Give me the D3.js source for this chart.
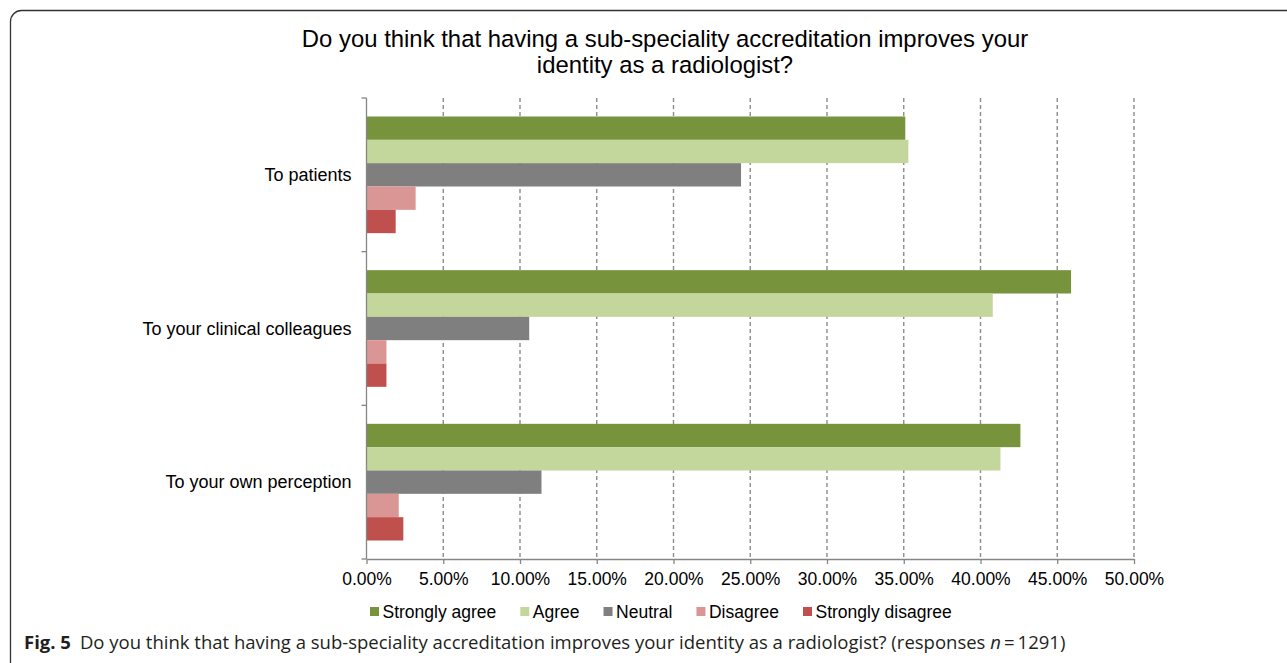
<!DOCTYPE html>
<html>
<head>
<meta charset="utf-8">
<script src="https://cdn.jsdelivr.net/npm/d3@7"></script>
<style>
  html, body { margin: 0; padding: 0; background: #fff; }
  svg { display: block; }
</style>
</head>
<body>
<svg id="chart" width="1287" height="663"></svg>
<script>
// Survey groups (top to bottom) and answer shares in percent
const categories = ["To patients", "To your clinical colleagues", "To your own perception"];
const seriesNames = ["Strongly agree", "Agree", "Neutral", "Disagree", "Strongly disagree"];
const stronglyAgree    = [35.1, 45.9, 42.6];
const agree            = [35.3, 40.8, 41.3];
const neutral          = [24.4, 10.6, 11.4];
const disagree         = [3.2, 1.3, 2.1];
const stronglyDisagree = [1.9, 1.3, 2.4];
const xTicks = [0, 5, 10, 15, 20, 25, 30, 35, 40, 45, 50];
const seriesColors = ["#77933C", "#C3D69B", "#7F7F7F", "#D99694", "#C0504D"];
const titleLines = ["Do you think that having a sub-speciality accreditation improves your", "identity as a radiologist?"];

const seriesValues = [stronglyAgree, agree, neutral, disagree, stronglyDisagree];
const rows = categories.map((c, i) => ({
  category: c,
  values: seriesNames.map((s, j) => ({ series: s, value: seriesValues[j][i] }))
}));

const svg = d3.select("#chart");
const fontMain = "'Liberation Sans', Arial, sans-serif";

// Rounded figure frame
svg.append("rect")
  .attr("x", 10.5).attr("y", 10.5)
  .attr("width", 1300).attr("height", 665)
  .attr("rx", 11).attr("ry", 11)
  .attr("fill", "none").attr("stroke", "#333").attr("stroke-width", 1.3);

// Title
svg.append("text")
  .attr("x", 665).attr("y", 46.5)
  .attr("text-anchor", "middle")
  .attr("font-family", fontMain).attr("font-size", 23.9).attr("fill", "#000")
  .selectAll("tspan").data(titleLines).join("tspan")
  .attr("x", 665).attr("dy", (d, i) => i === 0 ? 0 : 26.5)
  .text(d => d);

const plot = { left: 366.5, right: 1134, top: 98, bottom: 559 };

const x = d3.scaleLinear().domain([0, 50]).range([plot.left, plot.right]);
const y = d3.scaleBand().domain(categories).range([plot.top, plot.bottom]).padding(0);
const inner = d3.scaleBand().domain(seriesNames)
  .range([18.5, y.bandwidth() - 18.5]).padding(0);

// Dashed vertical gridlines
svg.append("g")
  .selectAll("line").data(xTicks.filter(t => t > 0)).join("line")
  .attr("x1", d => x(d)).attr("x2", d => x(d))
  .attr("y1", plot.top).attr("y2", plot.bottom)
  .attr("stroke", "#8c8c8c").attr("stroke-width", 1.4)
  .attr("stroke-dasharray", "4,3");

// Bars
const groups = svg.append("g").selectAll("g").data(rows).join("g")
  .attr("transform", d => `translate(0,${y(d.category)})`);
groups.selectAll("rect").data(d => d.values).join("rect")
  .attr("x", x(0))
  .attr("y", d => inner(d.series))
  .attr("width", d => x(d.value) - x(0))
  .attr("height", inner.bandwidth())
  .attr("fill", (d, i) => seriesColors[i]);

// Bottom axis
const xAxis = d3.axisBottom(x).tickValues(xTicks)
  .tickFormat(d => d3.format(".2f")(d) + "%")
  .tickSizeInner(5).tickSizeOuter(0).tickPadding(8.5);
const gx = svg.append("g").attr("transform", `translate(0,${plot.bottom})`).call(xAxis);
gx.select(".domain").attr("stroke", "#868686").attr("stroke-width", 1.3);
gx.selectAll(".tick line").attr("stroke", "#868686").attr("stroke-width", 1.3);
gx.selectAll(".tick text")
  .attr("font-family", fontMain).attr("font-size", 17.5).attr("fill", "#000");

// Left axis with boundary ticks between categories
const gy = svg.append("g").attr("transform", `translate(${plot.left},0)`);
gy.append("line")
  .attr("x1", 0).attr("x2", 0).attr("y1", plot.top).attr("y2", plot.bottom)
  .attr("stroke", "#868686").attr("stroke-width", 1.3);
const boundaries = categories.map(c => y(c)).concat([plot.bottom]);
gy.selectAll("line.b").data(boundaries).join("line").attr("class", "b")
  .attr("x1", -5).attr("x2", 0).attr("y1", d => d).attr("y2", d => d)
  .attr("stroke", "#868686").attr("stroke-width", 1.3);
gy.selectAll("text").data(categories).join("text")
  .attr("x", -15).attr("y", d => y(d) + y.bandwidth() / 2 + 6)
  .attr("text-anchor", "end")
  .attr("font-family", fontMain).attr("font-size", 18).attr("fill", "#000")
  .text(d => d);

// Legend
const legend = svg.append("g").attr("transform", "translate(370,618)");
let lx = 0;
seriesNames.forEach((name, i) => {
  const item = legend.append("g").attr("transform", `translate(${lx},0)`);
  item.append("rect").attr("x", 0).attr("y", -11).attr("width", 9).attr("height", 9)
    .attr("fill", seriesColors[i]);
  const t = item.append("text").attr("x", 12.5).attr("y", 0)
    .attr("font-family", fontMain).attr("font-size", 17.5).attr("fill", "#000")
    .text(name);
  lx += 12.5 + t.node().getComputedTextLength() + 24;
});

// Figure caption
const cap = svg.append("text").attr("x", 24).attr("y", 649)
  .attr("font-family", "'Open Sans', 'Noto Sans', sans-serif").attr("font-size", 18.5).attr("fill", "#231f20");
cap.append("tspan").attr("font-weight", "bold").text("Fig. 5");
cap.append("tspan").attr("dx", 9).text("Do you think that having a sub-speciality accreditation improves your identity as a radiologist? (responses ");
cap.append("tspan").attr("font-style", "italic").text("n");
cap.append("tspan").text("\u2009=\u20091291)");
</script>
</body>
</html>
